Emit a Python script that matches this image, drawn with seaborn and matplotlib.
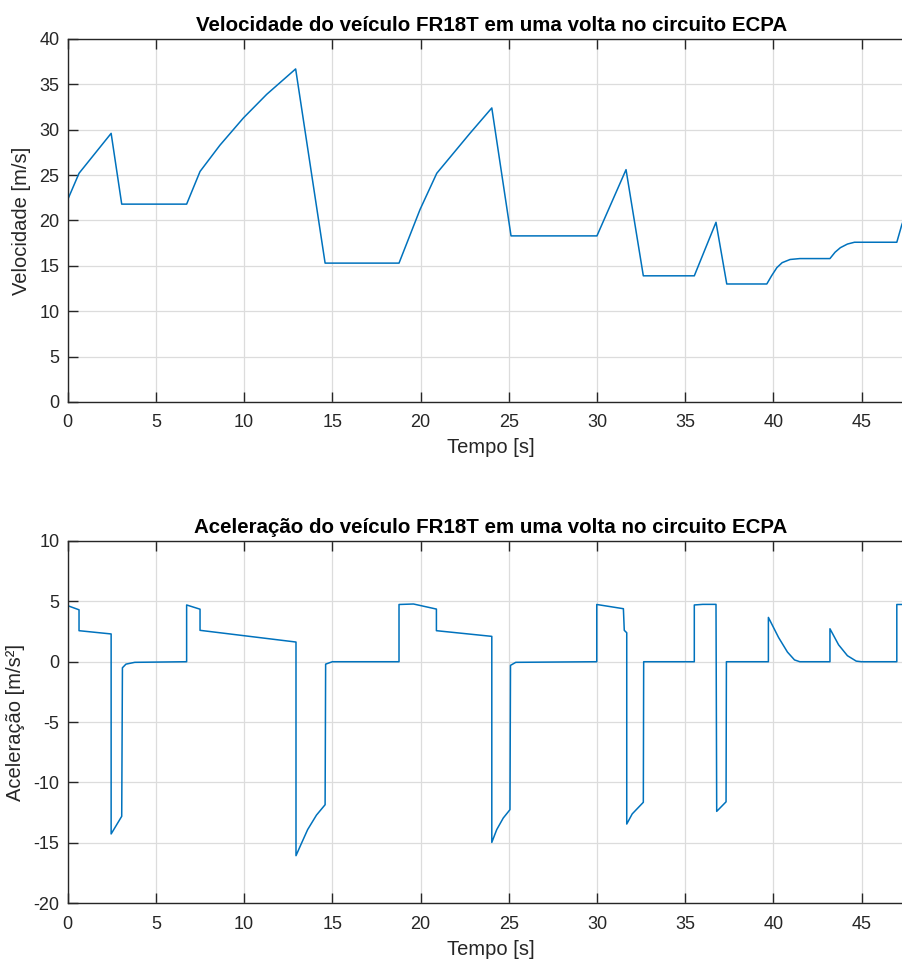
import numpy as np
import pandas as pd
import matplotlib
matplotlib.use("Agg")
import matplotlib.pyplot as plt
import seaborn as sns

# Velocity of the FR18T over one lap (time in s, speed in m/s)
t_vel = [0.0, 0.64, 2.46, 3.06, 6.74, 7.5, 8.63, 9.96, 11.28, 12.92, 14.59,
         18.78, 19.97, 20.92, 21.86, 22.8, 24.04, 25.13, 30.0, 31.65, 32.63,
         35.52, 36.75, 37.36, 39.63, 39.9, 40.2, 40.5, 40.95, 41.5, 43.21,
         43.5, 43.8, 44.2, 44.6, 47.0, 47.28, 47.6]
vel = [22.3, 25.2, 29.6, 21.8, 21.8, 25.4, 28.3, 31.3, 33.9, 36.7, 15.3,
       15.3, 21.2, 25.2, 27.4, 29.6, 32.4, 18.3, 18.3, 25.6, 13.9,
       13.9, 19.8, 13.0, 13.0, 13.9, 14.8, 15.35, 15.7, 15.8, 15.8,
       16.5, 17.0, 17.4, 17.6, 17.6, 19.5, 21.2]

# Longitudinal acceleration over the same lap (time in s, m/s^2)
t_acc = [0.0, 0.64, 0.64, 2.46, 2.46, 3.06, 3.1, 3.3, 3.8, 6.74, 6.74, 7.5, 7.5,
         12.94, 12.94, 13.2, 13.6, 14.1, 14.59, 14.62, 15.0, 18.78, 18.78, 19.6,
         20.9, 20.9, 24.04, 24.04, 24.32, 24.69, 25.07, 25.1, 25.4, 29.99, 29.99,
         31.5, 31.55, 31.69, 31.69, 32.0, 32.63, 32.65, 35.52, 35.52, 36.0, 36.75,
         36.79, 37.32, 37.34, 39.72, 39.72, 40.3, 40.8, 41.2, 41.5, 43.21, 43.21,
         43.7, 44.2, 44.7, 45.0, 47.0, 47.0, 47.6]
acc = [4.64, 4.3, 2.57, 2.3, -14.26, -12.8, -0.5, -0.2, -0.05, 0.0, 4.7, 4.35, 2.6,
       1.63, -16.06, -15.2, -13.9, -12.7, -11.84, -0.2, 0.0, 0.0, 4.74, 4.78,
       4.36, 2.57, 2.1, -14.96, -13.9, -12.94, -12.25, -0.3, -0.05, 0.0, 4.74,
       4.39, 2.6, 2.4, -13.44, -12.6, -11.64, 0.0, 0.0, 4.7, 4.75, 4.75,
       -12.39, -11.6, 0.0, 0.0, 3.67, 2.0, 0.8, 0.15, 0.0, 0.0, 2.73,
       1.4, 0.5, 0.05, 0.0, 0.0, 4.74, 4.74]

x_ticks = [0, 5, 10, 15, 20, 25, 30, 35, 40, 45]
vel_ticks = [0, 5, 10, 15, 20, 25, 30, 35, 40]
acc_ticks = [10, 5, 0, -5, -10, -15, -20]

df_vel = pd.DataFrame({"t": t_vel, "v": vel})
df_acc = pd.DataFrame({"t": t_acc, "a": acc})

sns.set_theme(style="whitegrid")
plt.rcParams["font.family"] = ["Liberation Sans", "DejaVu Sans"]
plt.rcParams["axes.unicode_minus"] = False

LINE = "#0072BD"
DARK = "#262626"
GRID = "#dcdcdc"

fig = plt.figure(figsize=(9.02, 9.6), dpi=100)
ax1 = fig.add_axes([0.0751, 0.5813, 0.9387, 0.3781])
ax2 = fig.add_axes([0.0751, 0.0591, 0.9387, 0.3774])

sns.lineplot(data=df_vel, x="t", y="v", ax=ax1, estimator=None, sort=False,
             color=LINE, linewidth=1.1)
sns.lineplot(data=df_acc, x="t", y="a", ax=ax2, estimator=None, sort=False,
             color=LINE, linewidth=1.1)


def style(ax, ylim, yticks, title, ylabel):
    ax.set_xlim(0, 48)
    ax.set_ylim(*ylim)
    ax.set_xticks(x_ticks)
    ax.set_yticks(yticks)
    ax.set_facecolor("white")
    ax.grid(True, color=GRID, linewidth=0.9)
    for side in ("left", "bottom", "top"):
        ax.spines[side].set_visible(True)
        ax.spines[side].set_color(DARK)
        ax.spines[side].set_linewidth(1.0)
    ax.spines["right"].set_visible(False)
    ax.tick_params(axis="both", direction="in", length=7, width=1.0,
                   color=DARK, labelcolor=DARK, labelsize=13,
                   top=True, bottom=True, left=True, right=False)
    ax.tick_params(axis="x", pad=9)
    ax.tick_params(axis="y", pad=6)
    ax.set_title(title, fontsize=14.8, fontweight="bold", color="black", pad=6)
    ax.set_xlabel("Tempo [s]", fontsize=14.5, color=DARK, labelpad=5)
    ax.set_ylabel(ylabel, fontsize=14.5, color=DARK, labelpad=6)


style(ax1, (0, 40), vel_ticks,
      "Velocidade do veículo FR18T em uma volta no circuito ECPA",
      "Velocidade [m/s]")
style(ax2, (-20, 10), acc_ticks,
      "Aceleração do veículo FR18T em uma volta no circuito ECPA",
      "Aceleração [m/s²]")

fig.savefig("out.png", dpi=100)
